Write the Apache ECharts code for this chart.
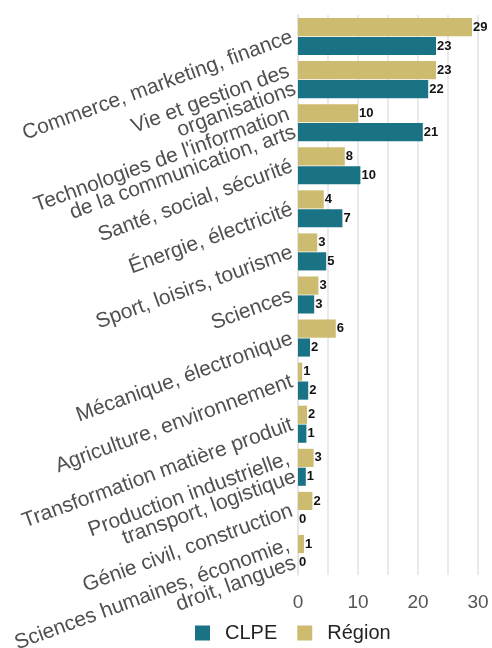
<!DOCTYPE html>
<html>
<head>
<meta charset="utf-8">
<script src="https://cdn.jsdelivr.net/npm/echarts@6/dist/echarts.min.js"></script>
<style>
  html, body { margin: 0; padding: 0; background: #fff; }
  #chart { width: 492px; height: 648px; }
</style>
</head>
<body>
<div id="chart"></div>
<script>
// categories, top to bottom
const categories = [
  "Commerce, marketing, finance",
  "Vie et gestion des\norganisations",
  "Technologies de l'information\nde la communication, arts",
  "Santé, social, sécurité",
  "Énergie, électricité",
  "Sport, loisirs, tourisme",
  "Sciences",
  "Mécanique, électronique",
  "Agriculture, environnement",
  "Transformation matière produit",
  "Production industrielle,\ntransport, logistique",
  "Génie civil, construction",
  "Sciences humaines, économie,\ndroit, langues"
];
// percentages (labels shown rounded)
const clpe = [23, 21.7, 20.8, 10.4, 7.4, 4.7, 2.7, 2.0, 1.7, 1.4, 1.3, 0, 0];
const region = [29, 23, 10, 7.8, 4.3, 3.2, 3.4, 6.3, 0.7, 1.5, 2.6, 2.4, 1.0];
const xTicks = [0, 10, 20, 30];

// y category axis runs bottom-up, so reverse everything
const cats = categories.slice().reverse();
const clpeData = clpe.slice().reverse();
const regionData = region.slice().reverse();

const chart = echarts.init(document.getElementById("chart"));

const valueLabel = {
  show: true,
  position: "right",
  distance: 1,
  color: "#111",
  fontWeight: "bold",
  fontSize: 13,
  fontFamily: "Liberation Sans, Arial, sans-serif",
  formatter: p => Math.round(p.value)
};

const option = {
  animation: false,
  textStyle: { fontFamily: "Liberation Sans, Arial, sans-serif" },
  grid: { left: 298, right: 14, top: 15, bottom: 73, containLabel: false, outerBoundsMode: "none" },
  legend: {
    bottom: 0,
    left: 190,
    itemWidth: 15,
    itemHeight: 15,
    itemGap: 20,
    icon: "rect",
    textStyle: { fontSize: 20, color: "#222", padding: [0, 0, 0, 10] },
    data: ["CLPE", "Région"]
  },
  xAxis: {
    type: "value",
    min: 0,
    max: 30,
    interval: 5,
    axisLine: { show: false },
    axisTick: { show: false },
    splitLine: { show: true, lineStyle: { color: "#e3e3e3", width: 1.5 } },
    axisLabel: {
      fontSize: 19,
      color: "#555",
      margin: 18,
      formatter: v => (xTicks.indexOf(v) >= 0 ? v : "")
    }
  },
  yAxis: {
    type: "category",
    data: cats,
    axisLine: { show: true, lineStyle: { color: "#e3e3e3", width: 1.5 } },
    axisTick: { show: false },
    axisLabel: {
      rotate: 20,
      fontSize: 21,
      color: "#505050",
      margin: 6,
      lineHeight: 19,
      interval: 0
    }
  },
  series: [
    {
      name: "Région",
      type: "bar",
      data: regionData,
      barGap: "4%",
      barCategoryGap: "14%",
      itemStyle: { color: "#cdbb70" },
      label: valueLabel
    },
    {
      name: "CLPE",
      type: "bar",
      data: clpeData,
      itemStyle: { color: "#1a7385" },
      label: valueLabel
    }
  ]
};

chart.setOption(option);
</script>
</body>
</html>
